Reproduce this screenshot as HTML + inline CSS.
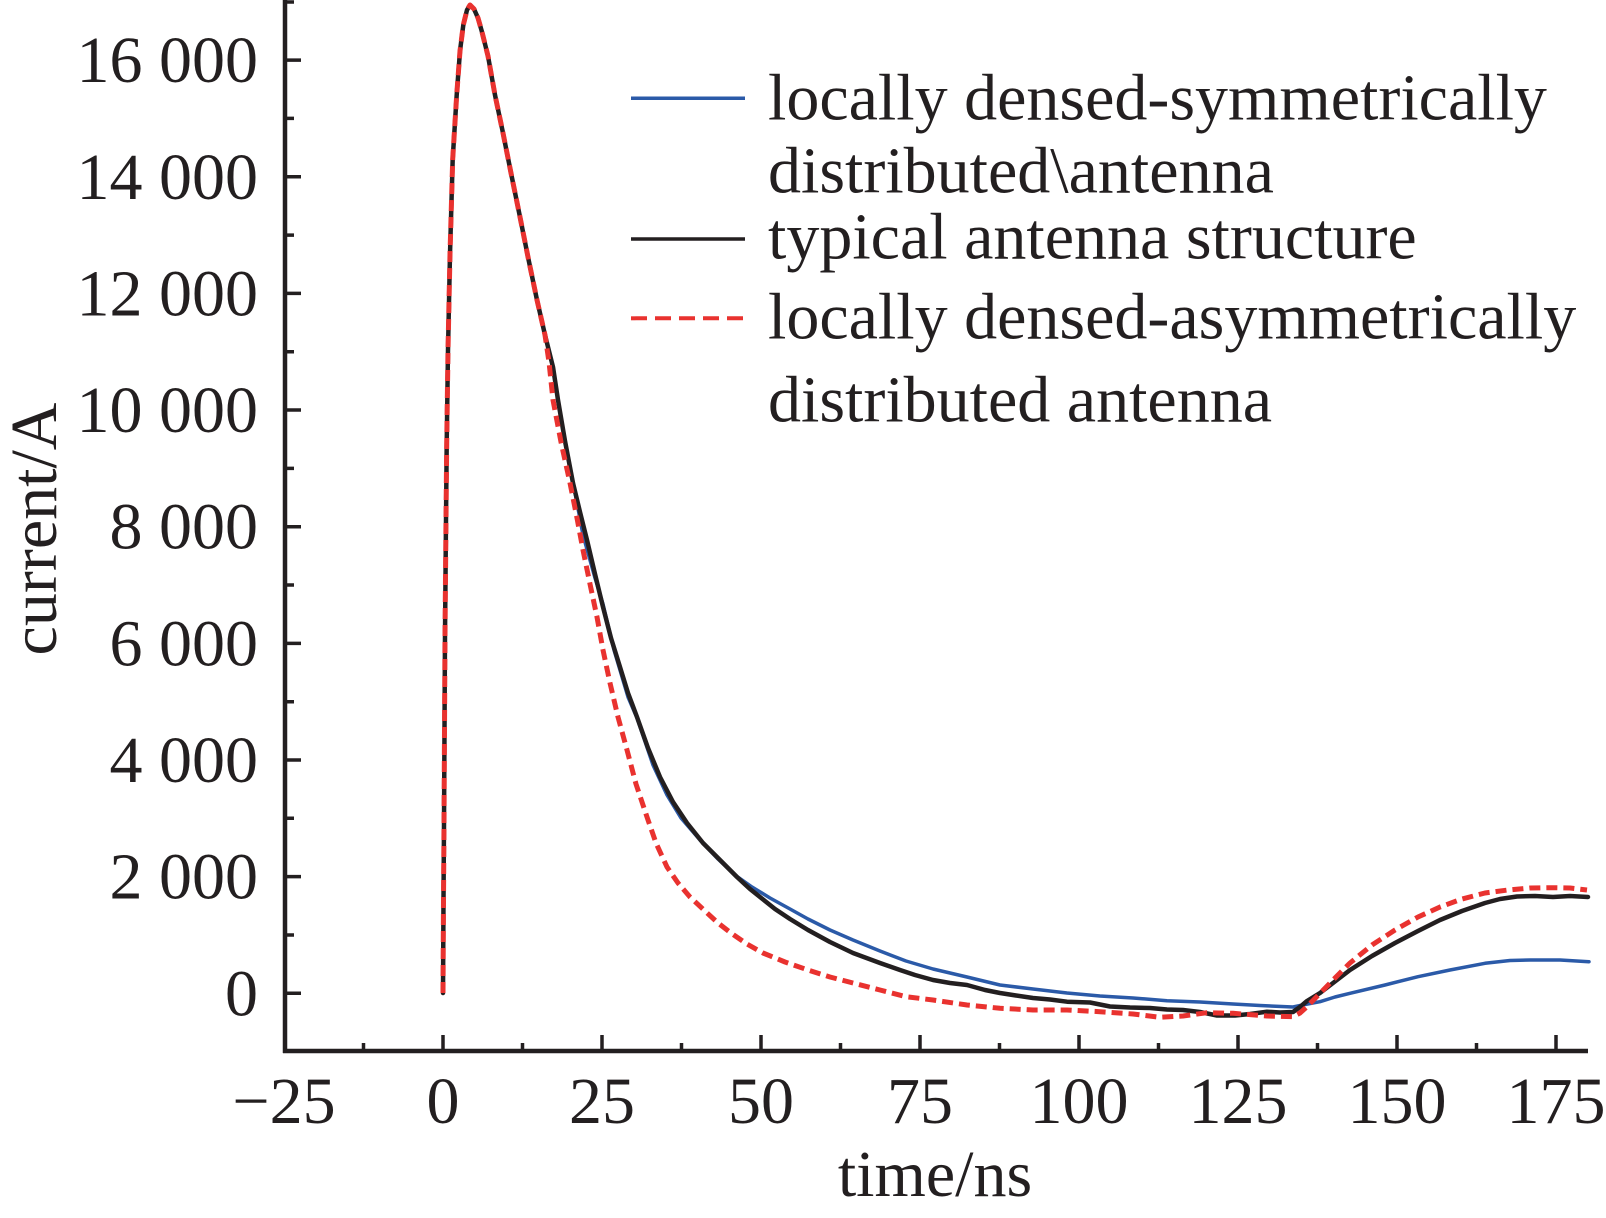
<!DOCTYPE html>
<html>
<head>
<meta charset="utf-8">
<style>
  html,body{margin:0;padding:0;background:#fff;}
  svg{display:block;}
  text{font-family:"Liberation Serif","Times New Roman",serif;fill:#231f20;}
</style>
</head>
<body>
<svg width="1606" height="1218" viewBox="0 0 1606 1218" xmlns="http://www.w3.org/2000/svg">
  <rect width="1606" height="1218" fill="#fff"/>

  <!-- Axes -->
  <g stroke="#231f20" fill="none">
    <line x1="285" y1="0" x2="285" y2="1053" stroke-width="4.5"/>
    <line x1="283" y1="1051" x2="1588" y2="1051" stroke-width="4.5"/>
    <path stroke-width="3.5" d="M285 993.3H301 M285 876.6H301 M285 760H301 M285 643.4H301 M285 526.7H301 M285 410H301 M285 293.4H301 M285 176.8H301 M285 60.1H301"/>
    <path stroke-width="3.5" d="M285 935H294 M285 818.3H294 M285 701.7H294 M285 585H294 M285 468.4H294 M285 351.7H294 M285 235.1H294 M285 118.4H294 M285 2H294"/>
    <path stroke-width="3.5" d="M443 1051V1035 M602 1051V1035 M761 1051V1035 M920 1051V1035 M1079 1051V1035 M1238 1051V1035 M1397 1051V1035 M1556 1051V1035"/>
    <path stroke-width="3.5" d="M363.5 1051V1043 M522.5 1051V1043 M681.5 1051V1043 M840.5 1051V1043 M999.5 1051V1043 M1158.5 1051V1043 M1317.5 1051V1043 M1476.5 1051V1043"/>
  </g>

  <!-- Y tick labels -->
  <g font-size="66" text-anchor="end">
    <text x="258" y="1015.3">0</text>
    <text x="258" y="898.6">2 000</text>
    <text x="258" y="782">4 000</text>
    <text x="258" y="665.4">6 000</text>
    <text x="258" y="548.7">8 000</text>
    <text x="258" y="432">10 000</text>
    <text x="258" y="315.4">12 000</text>
    <text x="258" y="198.8">14 000</text>
    <text x="258" y="82.1">16 000</text>
  </g>

  <!-- X tick labels -->
  <g font-size="66" text-anchor="middle">
    <text x="284" y="1123">−25</text>
    <text x="443" y="1123">0</text>
    <text x="602" y="1123">25</text>
    <text x="761" y="1123">50</text>
    <text x="920" y="1123">75</text>
    <text x="1079" y="1123">100</text>
    <text x="1238" y="1123">125</text>
    <text x="1397" y="1123">150</text>
    <text x="1556" y="1123">175</text>
  </g>

  <!-- Axis titles -->
  <text x="935" y="1196" font-size="66" text-anchor="middle">time/ns</text>
  <text transform="translate(56,529) rotate(-90)" font-size="66" text-anchor="middle">current/A</text>

  <!-- Series: blue -->
  <polyline fill="none" stroke="#2b5aa8" stroke-width="3.5" stroke-linejoin="round" stroke-linecap="round"
    points="443,993 443.5,900 444,825 445,635 446,520 446.7,444 448,350 450,254 452.7,159 456.7,95 460,51 463.3,25 467,10 470,5 474,9 478,18 482,32 488,56 495,95 503,133 511,173 520,217 528,257 537,300 545,335 553,367 558,400 565,440 573,482 583,535 595,578 603,604 614,650 628,697 637,718 653,765 667,795 681,818 700,840 718,859 735,875 752,887 770,898 790,909 808,919 830,930 853,940 880,951 906,961 933,969 967,977 1000,985 1033,989 1067,993 1100,996 1133,998 1167,1000.7 1200,1002 1233,1004 1260,1005.5 1293,1007 1305,1004.5 1320,1001.7 1335,997 1350,993.3 1385,985 1418,976.7 1450,970 1485,963.3 1510,960.5 1530,960 1560,960 1589,961.7"/>

  <!-- Series: black -->
  <polyline fill="none" stroke="#231f20" stroke-width="4.5" stroke-linejoin="round" stroke-linecap="round"
    points="443,993 443.5,900 444,825 445,635 446,520 446.7,444 448,350 450,254 452.7,159 456.7,95 460,51 463.3,25 467,10 470,5 474,9 478,18 482,32 488,56 495,95 503,133 511,173 520,217 528,257 537,300 545,335 553,367 558,400 565,441 573,483 580,512 587,540 595,574 603,607 611,638 620,667 628,693 637,717 648,748 660,777 673,802 687,823 703,843 720,860 737,877 750,889 760,897 775,909 790,919 808,930 830,942 853,953 880,963 900,970 915,975 933,980 950,983 967,985 985,990 1000,993 1016,995.5 1033,998 1050,999.5 1067,1001.7 1090,1002.5 1100,1004.5 1110,1006.5 1130,1007.5 1150,1008 1167,1009.5 1183,1010 1200,1012 1217,1015.5 1235,1015.5 1250,1014 1267,1011.7 1280,1012.5 1293,1012 1300,1007 1307,1001 1320,993 1350,970 1372,956 1395,943 1418,931 1440,920 1462,911 1485,903 1500,899 1517,896.5 1535,896 1553,897 1570,896 1588,897"/>

  <!-- Series: red dashed -->
  <polyline fill="none" stroke="#e9322f" stroke-width="5" stroke-dasharray="11 6" stroke-linejoin="round"
    points="443,993 443.5,900 444,825 445,635 446,520 446.7,444 448,350 450,254 452.7,159 456.7,95 460,51 463.3,25 467,10 470,5 474,9 478,18 482,32 488,56 495,95 503,133 511,173 520,217 528,257 537,300 545,335 549,362 553,400 561,442 570,483 577,518 583,550 590,584 597,617 603,650 610,683 618,717 627,750 636,784 647,817 656,843 667,867 678,883 690,897 705,911 718,923 731,933 747,944 763,953 785,962 808,970 830,977 853,983 880,990 906,996.7 933,1000 967,1005 1000,1008.3 1033,1010 1067,1010 1100,1011.7 1133,1014 1160,1017.3 1183,1016 1207,1012.7 1233,1013.3 1267,1016 1293,1016.7 1300,1013 1307,1006.7 1320,993.3 1335,978 1350,963 1372,945 1395,930 1418,917 1440,907 1462,899 1485,893 1508,890 1530,888 1553,887.7 1570,888 1587,890"/>

  <!-- Legend -->
  <line x1="631" y1="98.3" x2="745" y2="98.3" stroke="#2b5aa8" stroke-width="3.5"/>
  <line x1="631" y1="239" x2="745" y2="239" stroke="#231f20" stroke-width="3.5"/>
  <line x1="631" y1="318.3" x2="745" y2="318.3" stroke="#e9322f" stroke-width="4" stroke-dasharray="16 8"/>
  <g font-size="66">
    <text x="768" y="119.3">locally densed-symmetrically</text>
    <text x="768" y="192.7">distributed\antenna</text>
    <text x="768" y="258.3">typical antenna structure</text>
    <text x="768" y="338.3">locally densed-asymmetrically</text>
    <text x="768" y="421.7">distributed antenna</text>
  </g>
</svg>
</body>
</html>
